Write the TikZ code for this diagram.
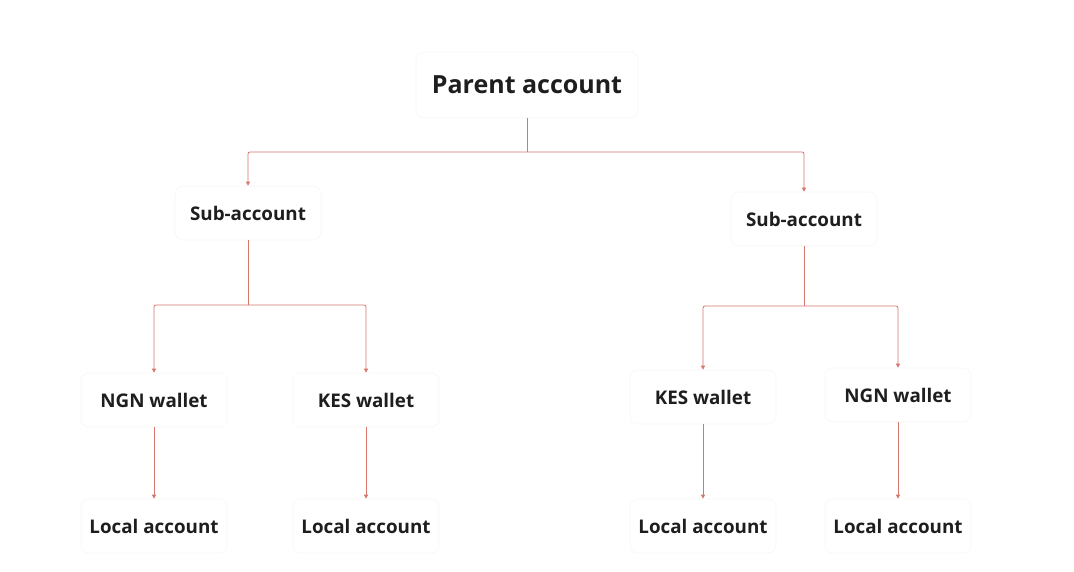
\documentclass[tikz,border=0pt]{standalone}
\usepackage{fontspec}
\setmainfont{Open Sans}
\usetikzlibrary{arrows.meta}
\definecolor{linkred}{RGB}{214,118,108}
\definecolor{boxedge}{RGB}{247,247,247}
\definecolor{txt}{RGB}{30,30,30}
\begin{document}
\begin{tikzpicture}[x=1pt,y=-1pt,
  card/.style={draw=boxedge,line width=0.6pt,fill=white,rounded corners=8pt,
    minimum width=146pt,minimum height=54pt,font=\bfseries\fontsize{18.8}{22}\selectfont,text=txt},
  bigcard/.style={card,minimum width=222pt,minimum height=66pt,font=\bfseries\fontsize{25}{30}\selectfont},
  link/.style={draw=linkred,line width=0.8pt,-{Triangle[length=4pt,width=4pt]}},
  plain/.style={draw=linkred,line width=0.8pt}]
\useasboundingbox (0,0) rectangle (1074,572);
\fill[white] (0,0) rectangle (1074,572);
\node[bigcard] (p) at (527,85) {Parent account};
\node[card] (s1) at (248,213) {Sub-account};
\node[card] (s2) at (804,219) {Sub-account};
\node[card] (w1) at (154,400) {NGN wallet};
\node[card] (w2) at (366,400) {KES wallet};
\node[card] (w3) at (703,397) {KES wallet};
\node[card] (w4) at (898,395) {NGN wallet};
\node[card] (l1) at (154,526) {Local account};
\node[card] (l2) at (366,526) {Local account};
\node[card] (l3) at (703,526) {Local account};
\node[card] (l4) at (898,526) {Local account};
\coordinate (pj) at (527,152);
\coordinate (s1j) at (248,305);
\coordinate (s2j) at (804,306);
\draw[plain] (p.south) -- (pj);
\draw[link,rounded corners=2pt] (pj) -| (s1.north);
\draw[link,rounded corners=2pt] (pj) -| (s2.north);
\draw[plain] (s1.south) -- (s1j);
\draw[link,rounded corners=2pt] (s1j) -| (w1.north);
\draw[link,rounded corners=2pt] (s1j) -| (w2.north);
\draw[plain] (s2.south) -- (s2j);
\draw[link,rounded corners=2pt] (s2j) -| (w3.north);
\draw[link,rounded corners=2pt] (s2j) -| (w4.north);
\draw[link] (w1) -- (l1);
\draw[link] (w2) -- (l2);
\draw[link] (w3) -- (l3);
\draw[link] (w4) -- (l4);
\end{tikzpicture}
\end{document}
